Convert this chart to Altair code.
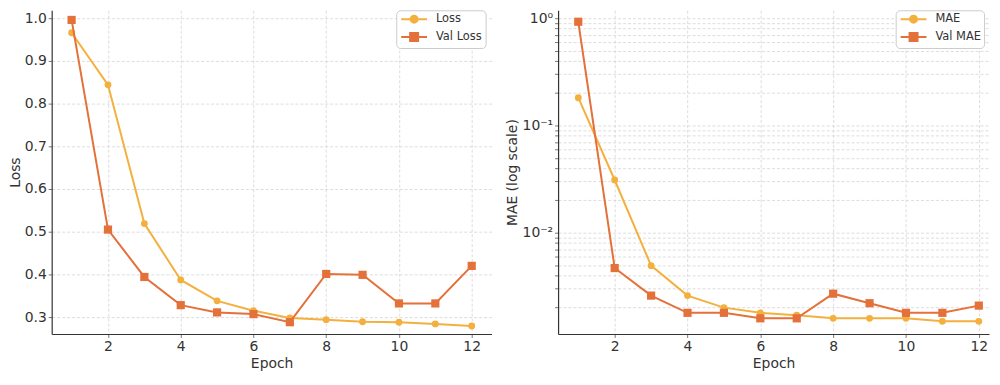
import altair as alt
import pandas as pd

epochs = list(range(1, 13))
loss = [0.966, 0.844, 0.519, 0.387, 0.338, 0.315, 0.298, 0.294, 0.289, 0.288, 0.284, 0.279]
val_loss = [0.996, 0.505, 0.394, 0.328, 0.311, 0.307, 0.288, 0.401, 0.399, 0.332, 0.332, 0.420]
mae = [0.1815, 0.0310, 0.00493, 0.00259, 0.00200, 0.00179, 0.00170, 0.00159, 0.00159, 0.00159, 0.00149, 0.00149]
val_mae = [0.927, 0.00468, 0.00259, 0.00179, 0.00179, 0.00159, 0.00159, 0.00270, 0.00220, 0.00179, 0.00179, 0.00209]

loss_names = ["Loss", "Val Loss"]
mae_names = ["MAE", "Val MAE"]
colors = ["#F4B03E", "#E4703A"]
x_ticks = [2, 4, 6, 8, 10, 12]
loss_ticks = [0.3, 0.4, 0.5, 0.6, 0.7, 0.8, 0.9, 1.0]
log_ticks = [0.002, 0.003, 0.004, 0.005, 0.006, 0.007, 0.008, 0.009,
             0.01, 0.02, 0.03, 0.04, 0.05, 0.06, 0.07, 0.08, 0.09,
             0.1, 0.2, 0.3, 0.4, 0.5, 0.6, 0.7, 0.8, 0.9, 1.0]

# legend symbols: a short line with the marker in its middle (units of sqrt(size)/2 = 5 px)
CIRCLE_LINE = "M-2.6,0L2.6,0M-0.7,0A0.7,0.7,0,1,1,0.7,0A0.7,0.7,0,1,1,-0.7,0Z"
SQUARE_LINE = "M-2.6,0L2.6,0M-0.8,-0.8L0.8,-0.8L0.8,0.8L-0.8,0.8Z"

PLOT_H = 326


def long_df(a, b, names):
    rows = []
    for e, v in zip(epochs, a):
        rows.append({"epoch": e, "series": names[0], "value": v})
    for e, v in zip(epochs, b):
        rows.append({"epoch": e, "series": names[1], "value": v})
    return pd.DataFrame(rows)


def panel(df, names, y_enc_kwargs, width, x_domain, legend_x):
    x = alt.X("epoch:Q", title="Epoch",
              scale=alt.Scale(domain=x_domain, nice=False, zero=False),
              axis=alt.Axis(values=x_ticks, format="d"))
    y = alt.Y("value:Q", **y_enc_kwargs)
    base = alt.Chart(df)
    layers = []
    shapes = ["circle", "square"]
    sizes = [48, 68]
    for i, name in enumerate(names):
        sub = base.transform_filter(alt.datum.series == name)
        layers.append(sub.mark_line(strokeWidth=2, color=colors[i]).encode(x=x, y=y, order="epoch:Q"))
        layers.append(sub.mark_point(filled=True, opacity=1, shape=shapes[i], size=sizes[i],
                                     color=colors[i]).encode(x=x, y=y))
    leg = alt.Legend(
        title=None, orient="none", legendX=legend_x, legendY=0,
        labelFont="DejaVu Sans", labelFontSize=11.5, labelColor="#333",
        symbolSize=100, symbolStrokeWidth=2, symbolOpacity=1, symbolOffset=9,
        labelOffset=16, padding=3, rowPadding=2,
        fillColor="white", strokeColor="#cccccc", cornerRadius=4,
    )
    legend_layer = base.mark_point(filled=True, opacity=0, strokeWidth=2, size=100).encode(
        x=x, y=y,
        color=alt.Color("series:N", scale=alt.Scale(domain=names, range=colors), legend=leg),
        stroke=alt.Stroke("series:N", scale=alt.Scale(domain=names, range=colors), legend=leg),
        shape=alt.Shape("series:N", scale=alt.Scale(domain=names, range=[CIRCLE_LINE, SQUARE_LINE]),
                        legend=leg),
    )
    layers.append(legend_layer)
    return alt.layer(*layers).properties(width=width, height=PLOT_H)


df_loss = long_df(loss, val_loss, loss_names)
df_mae = long_df(mae, val_mae, mae_names)

LIN_PX = 430.0    # pixels per unit of loss
LOG_PX = 108.0    # pixels per decade of MAE
TOP_GAP = 8.0     # pixels from plot top to the 1.0 line

left = panel(df_loss, loss_names, dict(
    title="Loss",
    scale=alt.Scale(domain=[1 + TOP_GAP / LIN_PX - PLOT_H / LIN_PX, 1 + TOP_GAP / LIN_PX],
                    nice=False, zero=False),
    axis=alt.Axis(values=loss_ticks, format=".1f", minExtent=27, maxExtent=27, titlePadding=2)),
    443, [0.452, 12.546], 347)

right = panel(df_mae, mae_names, dict(
    title="MAE (log scale)",
    scale=alt.Scale(type="log", domain=[10 ** ((TOP_GAP - PLOT_H) / LOG_PX), 10 ** (TOP_GAP / LOG_PX)],
                    nice=False),
    axis=alt.Axis(values=log_ticks, labelOverlap=False, minExtent=36, maxExtent=36, titlePadding=3,
                  labelExpr="datum.value == 1 ? '10⁰' : datum.value == 0.1 ? '10⁻¹' : datum.value == 0.01 ? '10⁻²' : ''")),
    434, [0.4456, 0.4456 + 434 / 36.67], 340)

chart = alt.hconcat(left, right, spacing=14).resolve_scale(
    color="independent", stroke="independent", shape="independent",
).resolve_legend(color="independent", stroke="independent", shape="independent").properties(
    padding={"left": 1, "top": 0, "right": 0, "bottom": 0}
).configure_view(stroke=None).configure_axis(
    domainColor="#333", domainWidth=1.2, tickColor="#555", tickSize=3.5, tickWidth=0.8,
    labelFont="DejaVu Sans", labelFontSize=14, labelColor="#333", labelPadding=2,
    titleFont="DejaVu Sans", titleFontSize=14, titleFontWeight="normal", titleColor="#333",
    gridColor="#d4d4d4", gridDash=[3, 2], gridWidth=0.8,
).configure_axisX(titlePadding=3)

chart.save("out.html", embed_options={"renderer": "svg", "actions": False})
